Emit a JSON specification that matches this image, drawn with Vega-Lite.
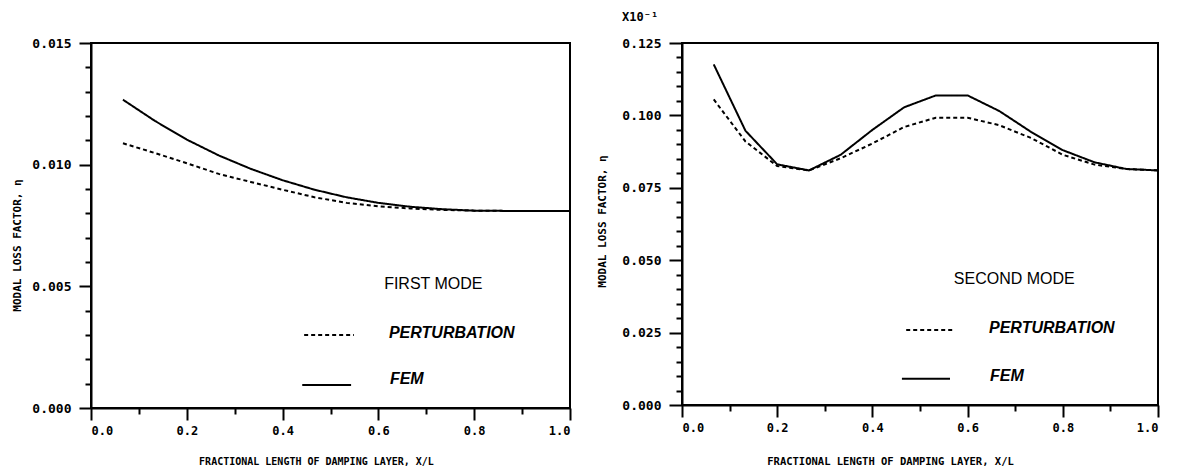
{
  "$schema": "https://vega.github.io/schema/vega-lite/v6.json",
  "padding": {"left": 10, "top": 10, "right": 5, "bottom": 0},
  "spacing": 20,
  "background": "white",
  "config": {
    "view": {"stroke": "black", "strokeWidth": 2},
    "axis": {
      "grid": false,
      "labelOverlap": false,
      "domainColor": "black", "domainWidth": 2,
      "tickColor": "black", "tickWidth": 2,
      "labelFont": "DejaVu Sans Mono", "labelFontWeight": "bold", "labelColor": "black",
      "titleFont": "DejaVu Sans Mono", "titleFontWeight": "bold", "titleColor": "black"
    }
  },
  "datasets": {
    "curves": [
      {"panel": "first", "method": "FEM", "x": 0.0667, "v": 0.01267},
      {"panel": "first", "method": "FEM", "x": 0.1333, "v": 0.0118},
      {"panel": "first", "method": "FEM", "x": 0.2, "v": 0.01103},
      {"panel": "first", "method": "FEM", "x": 0.2667, "v": 0.01038},
      {"panel": "first", "method": "FEM", "x": 0.3333, "v": 0.00983},
      {"panel": "first", "method": "FEM", "x": 0.4, "v": 0.00936},
      {"panel": "first", "method": "FEM", "x": 0.4667, "v": 0.00897},
      {"panel": "first", "method": "FEM", "x": 0.5333, "v": 0.00866},
      {"panel": "first", "method": "FEM", "x": 0.6, "v": 0.00843},
      {"panel": "first", "method": "FEM", "x": 0.6667, "v": 0.00827},
      {"panel": "first", "method": "FEM", "x": 0.7333, "v": 0.00817},
      {"panel": "first", "method": "FEM", "x": 0.8, "v": 0.00811},
      {"panel": "first", "method": "FEM", "x": 0.8667, "v": 0.0081},
      {"panel": "first", "method": "FEM", "x": 0.9333, "v": 0.0081},
      {"panel": "first", "method": "FEM", "x": 1.0, "v": 0.0081},
      {"panel": "first", "method": "PERTURBATION", "x": 0.0667, "v": 0.01088},
      {"panel": "first", "method": "PERTURBATION", "x": 0.1333, "v": 0.01048},
      {"panel": "first", "method": "PERTURBATION", "x": 0.2, "v": 0.01006},
      {"panel": "first", "method": "PERTURBATION", "x": 0.2667, "v": 0.00962},
      {"panel": "first", "method": "PERTURBATION", "x": 0.3333, "v": 0.00929},
      {"panel": "first", "method": "PERTURBATION", "x": 0.4, "v": 0.00897},
      {"panel": "first", "method": "PERTURBATION", "x": 0.4667, "v": 0.00866},
      {"panel": "first", "method": "PERTURBATION", "x": 0.5333, "v": 0.00843},
      {"panel": "first", "method": "PERTURBATION", "x": 0.6, "v": 0.00829},
      {"panel": "first", "method": "PERTURBATION", "x": 0.6667, "v": 0.0082},
      {"panel": "first", "method": "PERTURBATION", "x": 0.7333, "v": 0.00814},
      {"panel": "first", "method": "PERTURBATION", "x": 0.8, "v": 0.00811},
      {"panel": "first", "method": "PERTURBATION", "x": 0.8667, "v": 0.0081},
      {"panel": "first", "method": "PERTURBATION", "x": 0.9333, "v": 0.0081},
      {"panel": "first", "method": "PERTURBATION", "x": 1.0, "v": 0.0081},
      {"panel": "second", "method": "FEM", "x": 0.0667, "v": 0.1176},
      {"panel": "second", "method": "FEM", "x": 0.1333, "v": 0.0947},
      {"panel": "second", "method": "FEM", "x": 0.2, "v": 0.0831},
      {"panel": "second", "method": "FEM", "x": 0.2667, "v": 0.081},
      {"panel": "second", "method": "FEM", "x": 0.3333, "v": 0.0864},
      {"panel": "second", "method": "FEM", "x": 0.4, "v": 0.095},
      {"panel": "second", "method": "FEM", "x": 0.4667, "v": 0.1028},
      {"panel": "second", "method": "FEM", "x": 0.5333, "v": 0.1069},
      {"panel": "second", "method": "FEM", "x": 0.6, "v": 0.1069},
      {"panel": "second", "method": "FEM", "x": 0.6667, "v": 0.1015},
      {"panel": "second", "method": "FEM", "x": 0.7333, "v": 0.0943},
      {"panel": "second", "method": "FEM", "x": 0.8, "v": 0.088},
      {"panel": "second", "method": "FEM", "x": 0.8667, "v": 0.0838},
      {"panel": "second", "method": "FEM", "x": 0.9333, "v": 0.0815},
      {"panel": "second", "method": "FEM", "x": 1.0, "v": 0.081},
      {"panel": "second", "method": "PERTURBATION", "x": 0.0667, "v": 0.1055},
      {"panel": "second", "method": "PERTURBATION", "x": 0.1333, "v": 0.091},
      {"panel": "second", "method": "PERTURBATION", "x": 0.2, "v": 0.0825},
      {"panel": "second", "method": "PERTURBATION", "x": 0.2667, "v": 0.081},
      {"panel": "second", "method": "PERTURBATION", "x": 0.3333, "v": 0.0852},
      {"panel": "second", "method": "PERTURBATION", "x": 0.4, "v": 0.0903},
      {"panel": "second", "method": "PERTURBATION", "x": 0.4667, "v": 0.096},
      {"panel": "second", "method": "PERTURBATION", "x": 0.5333, "v": 0.0992},
      {"panel": "second", "method": "PERTURBATION", "x": 0.6, "v": 0.0992},
      {"panel": "second", "method": "PERTURBATION", "x": 0.6667, "v": 0.0966},
      {"panel": "second", "method": "PERTURBATION", "x": 0.7333, "v": 0.0922},
      {"panel": "second", "method": "PERTURBATION", "x": 0.8, "v": 0.0864},
      {"panel": "second", "method": "PERTURBATION", "x": 0.8667, "v": 0.083},
      {"panel": "second", "method": "PERTURBATION", "x": 0.9333, "v": 0.0815},
      {"panel": "second", "method": "PERTURBATION", "x": 1.0, "v": 0.081}
    ],
    "samples": [
      {"panel": "first", "method": "PERTURBATION", "x": 0.445, "x2": 0.549, "v": 0.003},
      {"panel": "first", "method": "FEM", "x": 0.441, "x2": 0.543, "v": 0.00095},
      {"panel": "second", "method": "PERTURBATION", "x": 0.471, "x2": 0.571, "v": 0.0259},
      {"panel": "second", "method": "FEM", "x": 0.462, "x2": 0.563, "v": 0.0091}
    ],
    "headers": [
      {"panel": "first", "text": "FIRST MODE", "x": 0.612, "v": 0.0051},
      {"panel": "second", "text": "SECOND MODE", "x": 0.571, "v": 0.0435}
    ],
    "labels": [
      {"panel": "first", "text": "PERTURBATION", "x": 0.622, "v": 0.00308},
      {"panel": "first", "text": "FEM", "x": 0.624, "v": 0.00119},
      {"panel": "second", "text": "PERTURBATION", "x": 0.645, "v": 0.0266},
      {"panel": "second", "text": "FEM", "x": 0.647, "v": 0.01}
    ]
  },
  "hconcat": [
    {
      "width": 479,
      "height": 365,
      "layer": [
        {
          "data": {"name": "curves"},
          "transform": [{"filter": "datum.panel === 'first'"}],
          "mark": {"type": "line", "color": "black", "strokeWidth": 2},
          "encoding": {
            "x": {
              "field": "x", "type": "quantitative",
              "scale": {"domain": [0, 1], "nice": false},
              "axis": {
                "values": [0, 0.1, 0.2, 0.3, 0.4, 0.5, 0.6, 0.7, 0.8, 0.9, 1.0],
                "tickCount": 100,
                "format": ".1f",
                "labelOverlap": false,
                "labelExpr": "round(datum.value*10) % 2 === 0 ? datum.label : ''",
                "tickSize": {"condition": {"test": "round(datum.value*10) % 2 === 0", "value": 12}, "value": 6},
                "labelFontSize": 12, "labelPadding": 5,
                "title": "FRACTIONAL LENGTH OF DAMPING LAYER, X/L",
                "titleFontSize": 10, "titlePadding": 20, "titleX": 225
              }
            },
            "y": {
              "field": "v", "type": "quantitative",
              "scale": {"domain": [0, 0.015], "nice": false},
              "axis": {
                "values": [0, 0.001, 0.002, 0.003, 0.004, 0.005, 0.006, 0.007, 0.008, 0.009, 0.01, 0.011, 0.012, 0.013, 0.014, 0.015],
                "tickCount": 100,
                "format": ".3f",
                "labelOverlap": false,
                "labelExpr": "round(datum.value*1000) % 5 === 0 ? datum.label : ''",
                "tickSize": {"condition": {"test": "round(datum.value*1000) % 5 === 0", "value": 12}, "value": 6},
                "labelFontSize": 13, "labelPadding": 8,
                "title": "MODAL LOSS FACTOR, η",
                "titleFontSize": 11, "titlePadding": 9, "titleY": 202
              }
            },
            "strokeDash": {
              "field": "method", "type": "nominal",
              "scale": {"domain": ["PERTURBATION", "FEM"], "range": [[4, 3], [1, 0]]},
              "legend": null
            }
          }
        },
        {
          "data": {"name": "samples"},
          "transform": [{"filter": "datum.panel === 'first'"}],
          "mark": {"type": "rule", "color": "black", "strokeWidth": 2},
          "encoding": {
            "x": {"field": "x", "type": "quantitative"},
            "x2": {"field": "x2"},
            "y": {"field": "v", "type": "quantitative"},
            "strokeDash": {"field": "method", "type": "nominal", "legend": null}
          }
        },
        {
          "data": {"name": "headers"},
          "transform": [{"filter": "datum.panel === 'first'"}],
          "mark": {"type": "text", "align": "left", "baseline": "middle", "font": "Liberation Sans Narrow, Liberation Sans, sans-serif", "fontSize": 16, "color": "black"},
          "encoding": {
            "x": {"field": "x", "type": "quantitative"},
            "y": {"field": "v", "type": "quantitative"},
            "text": {"field": "text"}
          }
        },
        {
          "data": {"name": "labels"},
          "transform": [{"filter": "datum.panel === 'first'"}],
          "mark": {"type": "text", "align": "left", "baseline": "middle", "font": "Liberation Sans Narrow, Liberation Sans, sans-serif", "fontSize": 16, "fontStyle": "italic", "fontWeight": "bold", "color": "black"},
          "encoding": {
            "x": {"field": "x", "type": "quantitative"},
            "y": {"field": "v", "type": "quantitative"},
            "text": {"field": "text"}
          }
        }
      ]
    },
    {
      "width": 476,
      "height": 362,
      "title": {"text": "X10⁻¹", "anchor": "start", "frame": "group", "dx": -60, "offset": 13, "font": "DejaVu Sans Mono", "fontSize": 12, "fontWeight": "bold", "color": "black"},
      "layer": [
        {
          "data": {"name": "curves"},
          "transform": [{"filter": "datum.panel === 'second'"}],
          "mark": {"type": "line", "color": "black", "strokeWidth": 2},
          "encoding": {
            "x": {
              "field": "x", "type": "quantitative",
              "scale": {"domain": [0, 1], "nice": false},
              "axis": {
                "values": [0, 0.1, 0.2, 0.3, 0.4, 0.5, 0.6, 0.7, 0.8, 0.9, 1.0],
                "tickCount": 100,
                "format": ".1f",
                "labelOverlap": false,
                "labelExpr": "round(datum.value*10) % 2 === 0 ? datum.label : ''",
                "tickSize": {"condition": {"test": "round(datum.value*10) % 2 === 0", "value": 12}, "value": 6},
                "labelFontSize": 12, "labelPadding": 5,
                "title": "FRACTIONAL LENGTH OF DAMPING LAYER, X/L",
                "titleFontSize": 10.5, "titlePadding": 23, "titleX": 208
              }
            },
            "y": {
              "field": "v", "type": "quantitative",
              "scale": {"domain": [0, 0.125], "nice": false},
              "axis": {
                "values": [0, 0.005, 0.01, 0.015, 0.02, 0.025, 0.03, 0.035, 0.04, 0.045, 0.05, 0.055, 0.06, 0.065, 0.07, 0.075, 0.08, 0.085, 0.09, 0.095, 0.1, 0.105, 0.11, 0.115, 0.12, 0.125],
                "tickCount": 100,
                "format": ".3f",
                "labelOverlap": false,
                "labelExpr": "round(datum.value*1000) % 25 === 0 ? datum.label : ''",
                "tickSize": {"condition": {"test": "round(datum.value*1000) % 25 === 0", "value": 13}, "value": 6},
                "labelFontSize": 13, "labelPadding": 8,
                "title": "MODAL LOSS FACTOR, η",
                "titleFontSize": 11, "titlePadding": 14, "titleY": 178
              }
            },
            "strokeDash": {
              "field": "method", "type": "nominal",
              "scale": {"domain": ["PERTURBATION", "FEM"], "range": [[4, 3], [1, 0]]},
              "legend": null
            }
          }
        },
        {
          "data": {"name": "samples"},
          "transform": [{"filter": "datum.panel === 'second'"}],
          "mark": {"type": "rule", "color": "black", "strokeWidth": 2},
          "encoding": {
            "x": {"field": "x", "type": "quantitative"},
            "x2": {"field": "x2"},
            "y": {"field": "v", "type": "quantitative"},
            "strokeDash": {"field": "method", "type": "nominal", "legend": null}
          }
        },
        {
          "data": {"name": "headers"},
          "transform": [{"filter": "datum.panel === 'second'"}],
          "mark": {"type": "text", "align": "left", "baseline": "middle", "font": "Liberation Sans Narrow, Liberation Sans, sans-serif", "fontSize": 16, "color": "black"},
          "encoding": {
            "x": {"field": "x", "type": "quantitative"},
            "y": {"field": "v", "type": "quantitative"},
            "text": {"field": "text"}
          }
        },
        {
          "data": {"name": "labels"},
          "transform": [{"filter": "datum.panel === 'second'"}],
          "mark": {"type": "text", "align": "left", "baseline": "middle", "font": "Liberation Sans Narrow, Liberation Sans, sans-serif", "fontSize": 16, "fontStyle": "italic", "fontWeight": "bold", "color": "black"},
          "encoding": {
            "x": {"field": "x", "type": "quantitative"},
            "y": {"field": "v", "type": "quantitative"},
            "text": {"field": "text"}
          }
        }
      ]
    }
  ]
}
